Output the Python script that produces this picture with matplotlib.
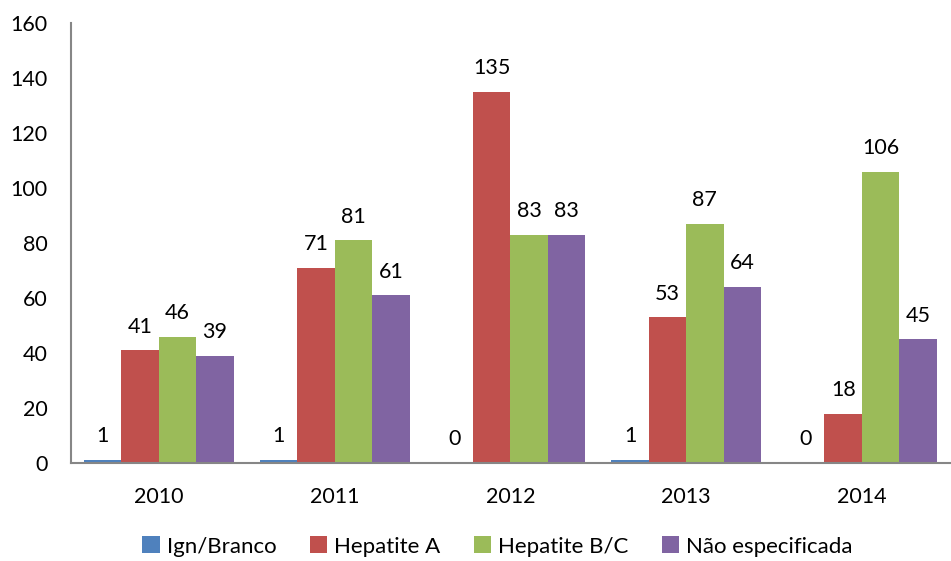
import numpy as np
import matplotlib
matplotlib.use('Agg')
import matplotlib.pyplot as plt

plt.rcParams['font.family'] = ['Lato', 'DejaVu Sans']

anos = ['2010', '2011', '2012', '2013', '2014']
series = ['Ign/Branco', 'Hepatite A', 'Hepatite B/C', 'Não especificada']
ign_branco = [1, 1, 0, 1, 0]
hepatite_a = [41, 71, 135, 53, 18]
hepatite_bc = [46, 81, 83, 87, 106]
nao_espec = [39, 61, 83, 64, 45]

cores = ['#4F81BD', '#C0504D', '#9BBB59', '#8064A2']
valores = [ign_branco, hepatite_a, hepatite_bc, nao_espec]

fig = plt.figure(figsize=(9.51, 5.61), dpi=100)
ax = fig.add_axes([0.0747, 0.1747, 0.924, 0.784])

x = np.arange(len(anos))
w = 0.213
for i, (nome, vals, cor) in enumerate(zip(series, valores, cores)):
    pos = x + (i - 1.5) * w
    bars = ax.bar(pos, vals, width=w, color=cor, label=nome)
    for b, v in zip(bars, vals):
        ax.text(b.get_x() + b.get_width() / 2, v + 5, str(v),
                ha='center', va='bottom', fontsize=15.5)

ax.set_xlim(-0.5, len(anos) - 0.5)
ax.set_ylim(0, 160)
ax.set_yticks(range(0, 161, 20))
ax.set_xticks(x)
ax.set_xticklabels(anos)
ax.tick_params(axis='both', length=0, labelsize=15.5)
ax.tick_params(axis='x', pad=17)
ax.tick_params(axis='y', pad=17)

for s in ['top', 'right']:
    ax.spines[s].set_visible(False)
for s in ['left', 'bottom']:
    ax.spines[s].set_color('#868686')
    ax.spines[s].set_linewidth(1.5)

fig.legend(loc='lower center', ncol=4, frameon=False, fontsize=16,
           bbox_to_anchor=(0.523, -0.028), handlelength=0.8, handleheight=0.8,
           handletextpad=0.3, columnspacing=1.5)

fig.savefig('out.png', dpi=100)
